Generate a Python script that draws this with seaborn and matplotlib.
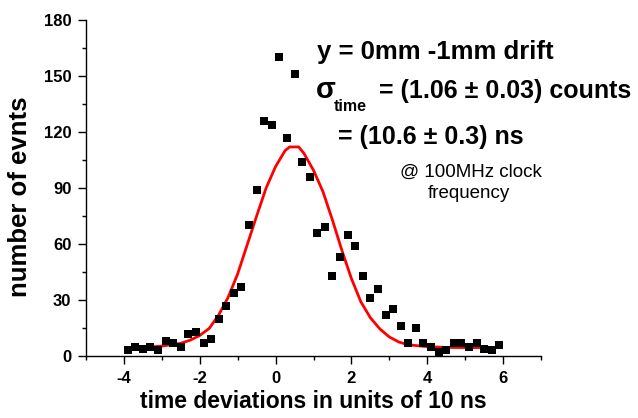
import numpy as np
import pandas as pd
import matplotlib
matplotlib.use("Agg")
import matplotlib.pyplot as plt
from matplotlib.ticker import MultipleLocator
import seaborn as sns

# ---- data ----
x_bins = [-3.9, -3.7, -3.5, -3.3, -3.1, -2.9, -2.7, -2.5, -2.3, -2.1,
          -1.9, -1.7, -1.5, -1.3, -1.1, -0.9, -0.7, -0.5, -0.3, -0.1,
          0.1, 0.3, 0.5, 0.7, 0.9, 1.1, 1.3, 1.5, 1.7, 1.9,
          2.1, 2.3, 2.5, 2.7, 2.9, 3.1, 3.3, 3.5, 3.7, 3.9,
          4.1, 4.3, 4.5, 4.7, 4.9, 5.1, 5.3, 5.5, 5.7, 5.9]
counts = [3, 5, 4, 5, 3, 8, 7, 5, 12, 13,
          7, 9, 20, 27, 34, 37, 70, 89, 126, 124,
          160, 117, 151, 104, 96, 66, 69, 43, 53, 65,
          59, 43, 31, 36, 22, 25, 16, 7, 15, 7,
          5, 2, 3, 7, 7, 5, 7, 4, 3, 6]

fit_x = [-3.9, -3.5, -3.0, -2.5, -2.25, -2.0, -1.75, -1.5, -1.25, -1.0,
         -0.75, -0.5, -0.25, 0.0, 0.25, 0.37, 0.61, 0.75, 1.0, 1.25,
         1.5, 1.75, 2.0, 2.25, 2.5, 2.75, 3.0, 3.25, 3.5, 4.0,
         4.5, 5.0, 5.9]
fit_y = [4.3, 4.6, 5.3, 6.8, 8.5, 11.0, 14.8, 22.0, 31.5, 44.0,
         59.5, 75.0, 90.0, 101.5, 110.0, 112.0, 112.0, 108.5, 99.5, 88.0,
         72.8, 56.5, 41.5, 29.0, 20.5, 14.5, 10.2, 7.5, 6.0, 5.0,
         4.6, 4.5, 4.5]

x_ticks = [-4, -2, 0, 2, 4, 6]
y_ticks = [0, 30, 60, 90, 120, 150, 180]

df_pts = pd.DataFrame({"x": x_bins, "n": counts})
df_fit = pd.DataFrame({"x": fit_x, "n": fit_y})

sns.set_style("ticks")
plt.rcParams["font.family"] = ["Liberation Sans", "DejaVu Sans"]
plt.rcParams["axes.unicode_minus"] = False
for key in ["text.color", "axes.labelcolor", "xtick.color", "ytick.color",
            "xtick.labelcolor", "ytick.labelcolor"]:
    plt.rcParams[key] = "black"

W, H = 638, 418
fig = plt.figure(figsize=(W / 100, H / 100), dpi=100)
ax = fig.add_axes([86 / W, 1 - 356 / H, (541 - 86) / W, (356 - 20) / H])

sns.lineplot(data=df_fit, x="x", y="n", ax=ax, color="#ff0000", lw=2.0,
             estimator=None, sort=True, zorder=2)
sns.scatterplot(data=df_pts, x="x", y="n", ax=ax, marker="s", s=30,
                color="black", linewidth=0, zorder=3)

ax.set_xlim(-5, 7)
ax.set_ylim(0, 180)
ax.set_xticks(x_ticks)
ax.set_yticks(y_ticks)
ax.xaxis.set_minor_locator(MultipleLocator(1))
ax.yaxis.set_minor_locator(MultipleLocator(15))
ax.tick_params(which="major", direction="out", length=5.5, width=1,
               labelsize=12, pad=5, color="black", labelcolor="black")
ax.tick_params(which="minor", direction="out", length=3, width=1, color="black")
for lab in ax.get_xticklabels() + ax.get_yticklabels():
    lab.set_fontweight("bold")

for side in ["top", "right"]:
    ax.spines[side].set_visible(False)
for side in ["left", "bottom"]:
    ax.spines[side].set_linewidth(1)
    ax.spines[side].set_color("black")

ax.set_xlabel("time deviations in units of 10 ns", fontsize=16.5,
              fontweight="bold", labelpad=3, color="black")
ax.set_ylabel("number of evnts", fontsize=18.5, fontweight="bold", color="black")
ax.yaxis.set_label_coords(-0.119, 0.473)

def ftext(px, py, s, **kw):
    fig.text(px / W, 1 - py / H, s, va="baseline", color="black", **kw)

ftext(317, 59, "y = 0mm -1mm drift", fontsize=18.5, fontweight="bold")
ftext(316, 98, "σ", fontsize=21, fontweight="bold")
ftext(334, 111, "time", fontsize=11.5, fontweight="bold")
ftext(379, 98, "= (1.06 ± 0.03) counts", fontsize=18, fontweight="bold")
ftext(338, 144, "= (10.6 ± 0.3) ns", fontsize=18, fontweight="bold")
ftext(400, 177, "@ 100MHz clock", fontsize=13.5)
ftext(469, 198, "frequency", fontsize=13.5, ha="center")

fig.savefig("out.png", dpi=100, facecolor="white")
